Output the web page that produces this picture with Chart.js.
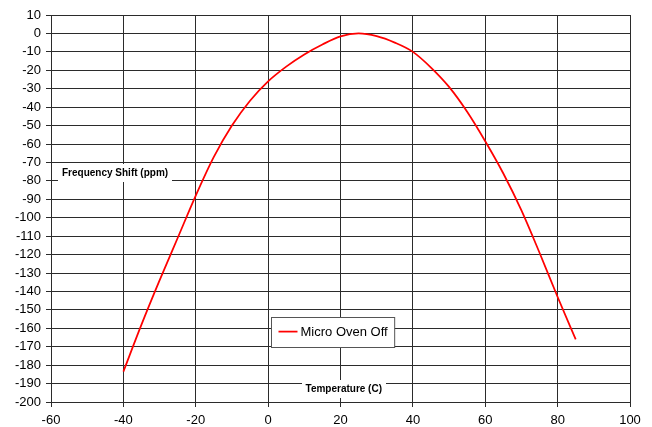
<!DOCTYPE html>
<html>
<head>
<meta charset="utf-8">
<script src="https://cdn.jsdelivr.net/npm/chart.js@4/dist/chart.umd.min.js"></script>
<style>
  body { margin: 0; background: #fff; }
  canvas { display: block; }
</style>
</head>
<body>
<canvas id="myChart" width="652" height="427"></canvas>
<script>
// temperature (C) vs frequency shift (ppm)
const temps = [-40, -35, -30, -25, -20, -15, -10, -5, 0, 5, 10, 15, 20, 25, 30, 35, 40, 45, 50, 55, 60, 65, 70, 75, 80, 85];
const shift = [-183.5, -158, -134, -111, -88, -67, -50, -36.5, -26, -18, -11.4, -6, -1.6, 0, -1.5, -5, -10, -18.5, -29, -42.5, -58.5, -76, -96, -119, -143, -166];
const seriesName = 'Micro Oven Off';
const yTitle = 'Frequency Shift (ppm)';
const xTitle = 'Temperature (C)';

const FONT = '"Liberation Sans", Arial, Helvetica, sans-serif';
const gridColor = '#2b2b2b';

// boxed labels drawn inside the plot area
const overlays = {
  id: 'overlays',
  afterDatasetsDraw(chart) {
    const ctx = chart.ctx;
    const xs = chart.scales.x, ys = chart.scales.y;

    function boxedText(text, x, y, font) {
      ctx.save();
      ctx.font = font;
      const w = ctx.measureText(text).width;
      ctx.fillStyle = '#fff';
      ctx.fillRect(Math.round(x - w / 2 - 4), Math.round(y - 9), Math.round(w + 8), 18);
      ctx.fillStyle = '#000';
      ctx.textAlign = 'center';
      ctx.textBaseline = 'middle';
      ctx.fillText(text, x, y);
      ctx.restore();
    }
    boxedText(yTitle, xs.getPixelForValue(-42.3), ys.getPixelForValue(-75.8), 'bold 10px ' + FONT);
    boxedText(xTitle, xs.getPixelForValue(20.9), ys.getPixelForValue(-193), 'bold 10px ' + FONT);

    // legend
    const cx = xs.getPixelForValue(17.7), cy = ys.getPixelForValue(-161.8);
    ctx.save();
    ctx.font = '13px ' + FONT;
    const tw = ctx.measureText(seriesName).width;
    const bw = tw + 36, bh = 30;
    const left = Math.round(cx - bw / 2) + 0.5, top = Math.round(cy - bh / 2) + 0.5;
    ctx.fillStyle = '#fff';
    ctx.fillRect(left, top, bw, bh);
    ctx.strokeStyle = '#555';
    ctx.lineWidth = 1;
    ctx.strokeRect(left, top, bw, bh);
    ctx.strokeStyle = '#ff0000';
    ctx.lineWidth = 1.75;
    ctx.beginPath();
    ctx.moveTo(left + 7, cy);
    ctx.lineTo(left + 26, cy);
    ctx.stroke();
    ctx.fillStyle = '#000';
    ctx.textBaseline = 'middle';
    ctx.fillText(seriesName, left + 29, cy + 0.5);
    ctx.restore();
  }
};

new Chart(document.getElementById('myChart'), {
  type: 'scatter',
  data: {
    datasets: [{
      label: seriesName,
      data: temps.map((t, i) => ({x: t, y: shift[i]})),
      showLine: true,
      borderColor: '#ff0000',
      borderWidth: 1.75,
      pointRadius: 0,
      cubicInterpolationMode: 'monotone',
      fill: false
    }]
  },
  options: {
    responsive: false,
    animation: false,
    devicePixelRatio: 1,
    layout: { padding: { top: 15, right: 22, left: 0, bottom: 0 } },
    plugins: {
      legend: { display: false },
      tooltip: { enabled: false }
    },
    scales: {
      x: {
        type: 'linear',
        min: -60,
        max: 100,
        afterFit: s => { s.height = 25; },
        ticks: { stepSize: 20, autoSkip: false, maxRotation: 0, color: '#000', padding: 6, font: { family: FONT, size: 13 } },
        grid: { color: gridColor, lineWidth: 1, tickLength: 5 },
        border: { color: gridColor }
      },
      y: {
        min: -200,
        max: 10,
        afterFit: s => { s.width = 51; },
        ticks: { stepSize: 10, autoSkip: false, color: '#000', padding: 5, font: { family: FONT, size: 13 } },
        grid: { color: gridColor, lineWidth: 1, tickLength: 5 },
        border: { color: gridColor }
      }
    }
  },
  plugins: [overlays]
});
</script>
</body>
</html>
